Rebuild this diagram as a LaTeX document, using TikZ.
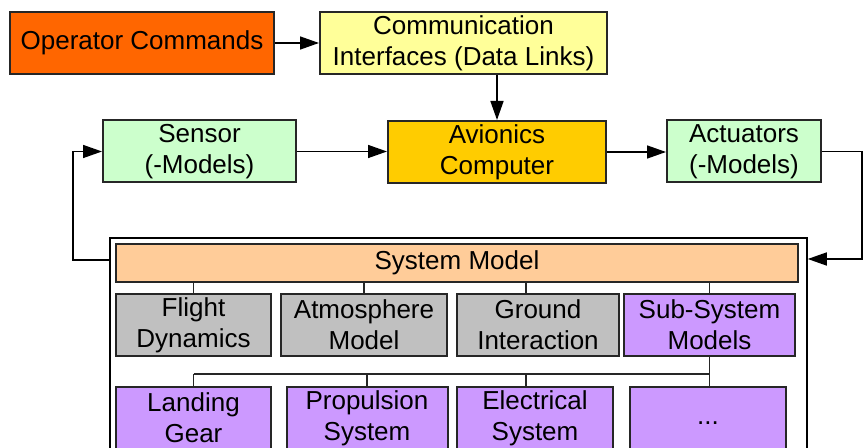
\documentclass[tikz,border=0pt]{standalone}
\usepackage{fontspec}
\setmainfont{Liberation Sans}
\usetikzlibrary{arrows.meta}

\definecolor{opcolor}{HTML}{FF6600}
\definecolor{commcolor}{HTML}{FFFF99}
\definecolor{avcolor}{HTML}{FFCC00}
\definecolor{sensecolor}{HTML}{CCFFCC}
\definecolor{sysmcolor}{HTML}{FFCC99}
\definecolor{corecolor}{HTML}{C0C0C0}
\definecolor{subcolor}{HTML}{CC99FF}

\tikzset{
  block/.style={draw=black!85, line width=1pt, inner sep=0pt, minimum height=31pt,
    align=center, font=\fontsize{13}{15.5}\selectfont},
  link/.style={line width=0.75pt, -{Triangle[length=9.5pt,width=6.5pt]}},
  tie/.style={line width=0.6pt, black!85},
}

\begin{document}
\begin{tikzpicture}[x=0.5pt,y=-0.5pt]
\clip (0,0) rectangle (867,448);
\fill [white] (0,0) rectangle (867,448);

% top chain
\node [block, fill=opcolor, minimum width=132pt] (opcmd) at (142,43) {Operator Commands};
\node [block, fill=commcolor, minimum width=143.5pt] (comm) at (463.5,43) {Communication\\Interfaces (Data Links)};
\node [block, fill=sensecolor, minimum width=96.5pt] (sensor) at (199.5,151.5) {Sensor\\(-Models)};
\node [block, fill=avcolor, minimum width=109pt] (avionics) at (497,152) {Avionics\\Computer};
\node [block, fill=sensecolor, minimum width=77pt] (actuators) at (744,151.5) {Actuators\\(-Models)};

% system model
\node [draw, line width=0.75pt, fill=white, inner sep=0pt, minimum width=348.5pt, minimum height=121pt] (sysframe) at (458.5,359) {};
\node [block, fill=sysmcolor, minimum width=341pt, minimum height=19pt] (sysmodel) at (457,263) {System Model};

\node [block, fill=corecolor, minimum width=77.5pt] (flight) at (193.5,325) {Flight\\Dynamics};
\node [block, fill=corecolor, minimum width=83pt] (atmos) at (364,325) {Atmosphere\\Model};
\node [block, fill=corecolor, minimum width=81pt] (ground) at (538,325) {Ground\\Interaction};
\node [block, fill=subcolor, minimum width=85.5pt] (subsys) at (709.5,325) {Sub-System\\Models};

\node [block, fill=subcolor, minimum width=77.5pt] (landing) at (193.5,418) {Landing\\Gear};
\node [block, fill=subcolor, minimum width=80.5pt] (propulsion) at (367,418) {Propulsion\\System};
\node [block, fill=subcolor, minimum width=78pt] (electrical) at (535,418) {Electrical\\System};
\node [block, fill=subcolor, minimum width=78pt] (dots) at (708,418) {\strut...};

% arrows
\draw [link] (opcmd.east) -- (comm.west);
\draw [link] (comm.south -| avionics.north) -- (avionics.north);
\draw [link] (sensor.east) -- (sensor.east -| avionics.west);
\draw [link] (avionics.east) -- (avionics.east -| actuators.west);

\coordinate (rturn) at (862,259);
\coordinate (lturn) at (73,260);
\draw [link] (actuators.east) -| (rturn) -- (rturn -| sysframe.east);
\draw [link] (lturn -| sysframe.west) -- (lturn) |- (sensor.west);

% tree inside the system model
\coordinate (gtop) at ([xshift=-6pt]ground.north);
\coordinate (etop) at ([xshift=-4.5pt]electrical.north);
\coordinate (bus) at (0,374);

\draw [tie] (flight.north) -- (flight.north |- sysmodel.south);
\draw [tie] (atmos.north) -- (atmos.north |- sysmodel.south);
\draw [tie] (gtop) -- (gtop |- sysmodel.south);
\draw [tie] (subsys.north) -- (subsys.north |- sysmodel.south);

\draw [tie] (landing.north |- bus) -- (subsys.south |- bus);
\draw [tie] (subsys.south) -- (subsys.south |- dots.north);
\draw [tie] (landing.north) -- (landing.north |- bus);
\draw [tie] (propulsion.north) -- (propulsion.north |- bus);
\draw [tie] (etop) -- (etop |- bus);
\end{tikzpicture}
\end{document}
